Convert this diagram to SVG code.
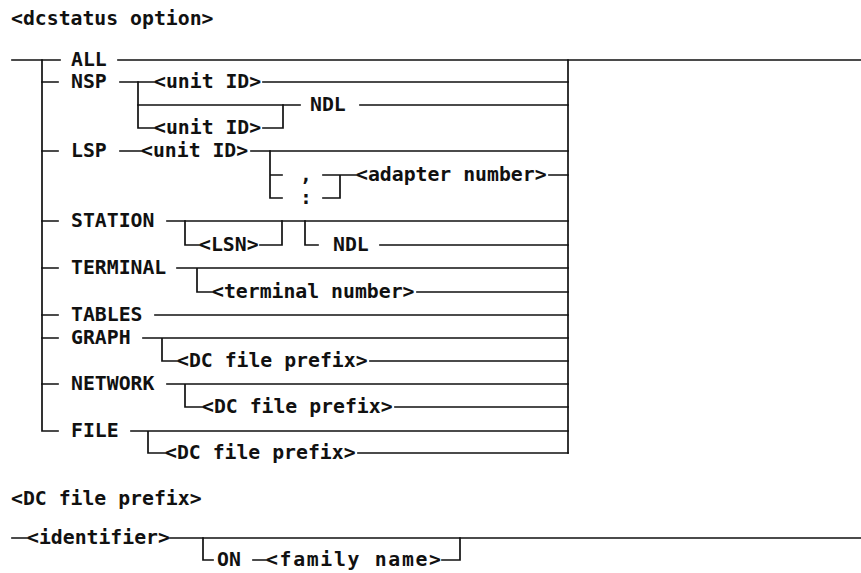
<svg xmlns="http://www.w3.org/2000/svg" width="861" height="573" viewBox="0 0 861 573">
  <style>
    text { font-family: "DejaVu Sans Mono", "Liberation Mono", monospace; font-weight: bold; font-size: 19.8px; fill: #111; }
    .wire { fill: none; stroke: #111; stroke-width: 1.7; stroke-linecap: square; }
  </style>
  <rect width="861" height="573" fill="#fff"/>

  <!-- railroad lines -->
  <g id="connectors" class="wire">
    <!-- main rails -->
    <path d="M12 60 H60 M118 60 H861"/>
    <path d="M42 60 V431 H58"/>
    <path d="M568 60 V453"/>
    <!-- option ticks -->
    <path d="M42 82 H58 M42 151 H58 M42 221 H58 M42 268 H58 M42 315 H58 M42 338 H58 M42 384 H58"/>
    <!-- NSP -->
    <path d="M120 82 H155 M263 82 H568"/>
    <path d="M138 82 V128 H155 M263 128 H283 V105"/>
    <path d="M138 105 H300 M360 105 H568"/>
    <!-- LSP -->
    <path d="M120 151 H142 M251 151 H568"/>
    <path d="M270 151 V198 H282 M270 175 H282"/>
    <path d="M323 175 H357 M323 198 H340 V175 M549 175 H568"/>
    <!-- STATION -->
    <path d="M167 221 H568"/>
    <path d="M185 221 V245 H200 M260 245 H282 V221"/>
    <path d="M305 221 V245 H318 M380 245 H568"/>
    <!-- TERMINAL -->
    <path d="M177 268 H568 M197 268 V292 H213 M417 292 H568"/>
    <!-- TABLES -->
    <path d="M155 315 H568"/>
    <!-- GRAPH -->
    <path d="M143 338 H568 M162 338 V361 H178 M370 361 H568"/>
    <!-- NETWORK -->
    <path d="M167 384 H568 M185 384 V407 H203 M395 407 H568"/>
    <!-- FILE -->
    <path d="M131 431 H568 M148 431 V453 H166 M358 453 H568"/>
    <!-- DC file prefix -->
    <path d="M12 538 H28 M170 538 H861"/>
    <path d="M203 538 V560 H213 M253 560 H267 M442 560 H460 V538"/>
  </g>

  <g id="title-dcstatus"><text x="11" y="25">&lt;dcstatus option&gt;</text></g>

  <g id="opt-all"><text x="71" y="66">ALL</text></g>
  <g id="opt-nsp">
    <text x="71" y="88">NSP</text>
    <text x="154" y="88">&lt;unit ID&gt;</text>
    <text x="310" y="111">NDL</text>
    <text x="154" y="134">&lt;unit ID&gt;</text>
  </g>
  <g id="opt-lsp">
    <text x="71" y="157">LSP</text>
    <text x="141" y="157">&lt;unit ID&gt;</text>
    <text x="300" y="181">,</text>
    <text x="300" y="204">:</text>
    <text x="356" y="181">&lt;adapter number&gt;</text>
  </g>
  <g id="opt-station">
    <text x="71" y="227">STATION</text>
    <text x="199" y="251">&lt;LSN&gt;</text>
    <text x="333" y="251">NDL</text>
  </g>
  <g id="opt-terminal">
    <text x="71" y="274">TERMINAL</text>
    <text x="212" y="298">&lt;terminal number&gt;</text>
  </g>
  <g id="opt-tables"><text x="71" y="321">TABLES</text></g>
  <g id="opt-graph">
    <text x="71" y="344">GRAPH</text>
    <text x="177" y="367">&lt;DC file prefix&gt;</text>
  </g>
  <g id="opt-network">
    <text x="71" y="390">NETWORK</text>
    <text x="202" y="413">&lt;DC file prefix&gt;</text>
  </g>
  <g id="opt-file">
    <text x="71" y="437">FILE</text>
    <text x="165" y="459">&lt;DC file prefix&gt;</text>
  </g>

  <g id="title-prefix"><text x="11" y="505">&lt;DC file prefix&gt;</text></g>
  <g id="prefix-identifier"><text x="27" y="544">&lt;identifier&gt;</text></g>
  <g id="prefix-on">
    <text x="217" y="566">ON</text>
    <text x="266" y="566" textLength="175" lengthAdjust="spacing">&lt;family name&gt;</text>
  </g>
</svg>
